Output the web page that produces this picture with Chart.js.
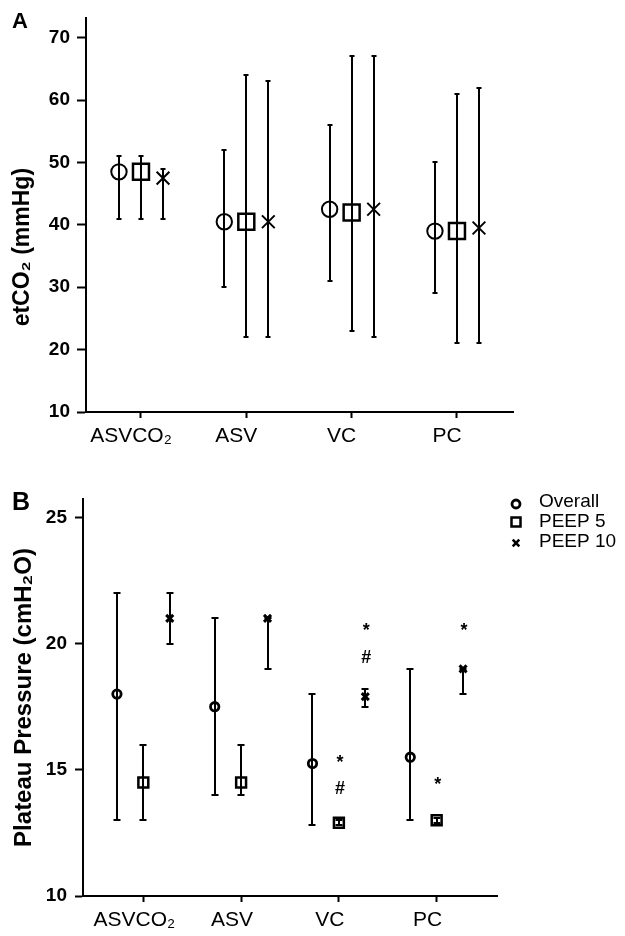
<!DOCTYPE html>
<html><head><meta charset="utf-8">
<script src="https://cdn.jsdelivr.net/npm/chart.js@4.4.1/dist/chart.umd.min.js"></script>
<style>
html,body{margin:0;padding:0;background:#fff;}
#wrap{position:relative;width:625px;height:936px;overflow:hidden;background:#fff;}
.panel{position:absolute;left:0;}
.lbl{position:absolute;font-family:"Liberation Sans",Arial,sans-serif;font-weight:bold;line-height:1;color:#000;}
</style></head><body>
<div id="wrap">
<canvas id="cA" class="panel" width="625" height="470" style="top:0"></canvas>
<canvas id="cB" class="panel" width="625" height="466" style="top:470px"></canvas>
<div class="lbl" style="left:12px;top:10px;font-size:22px">A</div>
<div class="lbl" style="left:12px;top:489px;font-size:25px">B</div>
</div>
<script>
// ---------------- data ----------------
const categories = ['ASVCO₂', 'ASV', 'VC', 'PC'];
const seriesNames = ['Overall', 'PEEP 5', 'PEEP 10'];

// Panel A: etCO2 (mmHg)
const etco2TickValues = [10, 20, 30, 40, 50, 60, 70];
const etco2Overall     = [48.5, 40.5, 42.5, 39.0];
const etco2OverallLow  = [41, 30, 31, 29];
const etco2OverallHigh = [51, 52, 56, 50];
const etco2Peep5       = [48.5, 40.5, 42.0, 39.0];
const etco2Peep5Low    = [41, 22, 23, 21];
const etco2Peep5High   = [51, 64, 67, 61];
const etco2Peep10      = [47.5, 40.5, 42.5, 39.5];
const etco2Peep10Low   = [41, 22, 22, 21];
const etco2Peep10High  = [49, 63, 67, 62];

// Panel B: Plateau pressure (cmH2O)
const plateauTickValues = [10, 15, 20, 25];
const plateauOverall     = [18.0, 17.5, 15.25, 15.5];
const plateauOverallLow  = [13, 14, 12.8, 13];
const plateauOverallHigh = [22, 21, 18, 19];
const plateauPeep5       = [14.5, 14.5, 12.9, 13.0];
const plateauPeep5Low    = [13, 14, 12.8, 12.9];
const plateauPeep5High   = [16, 16, 13.0, 13.1];
const plateauPeep10      = [21, 21, 17.9, 19];
const plateauPeep10Low   = [20, 19, 17.5, 18];
const plateauPeep10High  = [22, 21, 18.2, 19];

// significance marks in panel B
const sigCategory = [2, 2, 2, 2, 3, 3];
const sigSeries   = [1, 1, 2, 2, 1, 2];
const sigValue    = [15.5, 14.3, 20.7, 19.5, 14.6, 20.7];
const sigSymbol   = ['*', '#', '*', '#', '*', '*'];

// ---------------- setup ----------------
const FONT = '"Liberation Sans", Arial, "DejaVu Sans", sans-serif';
Chart.defaults.font.family = FONT;
Chart.defaults.color = '#000';

const errorBars = {
  id: 'errorBars',
  beforeDatasetsDraw(chart, args, opts) {
    const ctx = chart.ctx, x = chart.scales.x, y = chart.scales.y;
    ctx.save();
    ctx.strokeStyle = '#000';
    ctx.lineWidth = opts.lineWidth;
    chart.data.datasets.forEach(ds => {
      ds.data.forEach((p, j) => {
        const px = Math.round(x.getPixelForValue(p.x));
        const lo = Math.round(y.getPixelForValue(ds.errLow[j]));
        const hi = Math.round(y.getPixelForValue(ds.errHigh[j]));
        ctx.beginPath();
        ctx.moveTo(px, lo); ctx.lineTo(px, hi);
        ctx.moveTo(px - opts.cap, lo); ctx.lineTo(px + opts.cap, lo);
        ctx.moveTo(px - opts.cap, hi); ctx.lineTo(px + opts.cap, hi);
        ctx.stroke();
      });
    });
    ctx.restore();
  }
};

const sigMarks = {
  id: 'sigMarks',
  afterDatasetsDraw(chart, args, opts) {
    if (!opts.show) return;
    const ctx = chart.ctx, x = chart.scales.x, y = chart.scales.y;
    ctx.save();
    ctx.fillStyle = '#000';
    ctx.font = 'bold 18px ' + FONT;
    ctx.textAlign = 'center';
    ctx.textBaseline = 'alphabetic';
    sigSymbol.forEach((s, k) => {
      const px = x.getPixelForValue(sigCategory[k] + opts.offsets[sigSeries[k]]);
      const py = y.getPixelForValue(sigValue[k]);
      const shift = s === '*' ? 0.58 * 18 : 0.36 * 18;
      ctx.fillText(s, px + 1, py + shift);
    });
    ctx.restore();
  }
};

const sideLegend = {
  id: 'sideLegend',
  afterDraw(chart, args, opts) {
    if (!opts.show) return;
    const ctx = chart.ctx;
    ctx.save();
    ctx.strokeStyle = '#000';
    ctx.fillStyle = '#000';
    ctx.font = '19px ' + FONT;
    ctx.textBaseline = 'middle';
    ctx.textAlign = 'left';
    chart.data.datasets.forEach((ds, i) => {
      const my = opts.top + i * opts.step;
      const mx = opts.markerX;
      ctx.beginPath();
      if (ds.pointStyle === 'circle') {
        ctx.lineWidth = 2.8;
        ctx.arc(mx, my + 2, 4, 0, Math.PI * 2);
      } else if (ds.pointStyle === 'rect') {
        ctx.lineWidth = 2.5;
        ctx.rect(mx - 4.5, my - 4.5, 9, 9);
      } else {
        ctx.lineWidth = 2.6;
        ctx.moveTo(mx - 3.3, my - 2.3); ctx.lineTo(mx + 3.3, my + 4.3);
        ctx.moveTo(mx + 3.3, my - 2.3); ctx.lineTo(mx - 3.3, my + 4.3);
      }
      ctx.stroke();
      ctx.fillText(ds.label, opts.textX, my);
    });
    ctx.restore();
  }
};

function makeDatasets(means, lows, highs, offsets, styles) {
  return means.map((vals, s) => ({
    label: seriesNames[s],
    data: categories.map((c, i) => ({x: i + offsets[s], y: vals[i]})),
    errLow: lows[s],
    errHigh: highs[s],
    pointStyle: styles[s].style,
    radius: styles[s].r,
    hoverRadius: styles[s].r,
    borderWidth: styles[s].w,
    hoverBorderWidth: styles[s].w,
    borderColor: '#000',
    backgroundColor: 'rgba(0,0,0,0)',
    showLine: false
  }));
}

function makeOptions(cfg) {
  return {
    responsive: false,
    animation: false,
    events: [],
    layout: {padding: {top: cfg.top, right: cfg.right, bottom: 0, left: 0}},
    plugins: {
      legend: {display: false},
      tooltip: {enabled: false},
      errorBars: {lineWidth: 2, cap: cfg.cap},
      sigMarks: {show: cfg.sig, offsets: cfg.offsets},
      sideLegend: {show: cfg.legend, top: 32, step: 20, markerX: 516, textX: 539}
    },
    scales: {
      x: {
        type: 'linear',
        min: cfg.xmin, max: cfg.xmax,
        afterBuildTicks: s => { s.ticks = categories.map((c, i) => ({value: i})); },
        afterFit: s => { s.height = cfg.xh; },
        ticks: {
          callback: v => categories[Math.round(v)],
          font: {size: 21},
          color: '#000',
          padding: 6,
          labelOffset: cfg.labelOffset,
          autoSkip: false,
          maxRotation: 0
        },
        grid: {drawOnChartArea: false, tickLength: 6, tickColor: '#000', tickWidth: 2},
        border: {color: '#000', width: 2}
      },
      y: {
        min: cfg.ymin, max: cfg.ymax,
        afterBuildTicks: s => { s.ticks = cfg.ticks.map(v => ({value: v})); },
        afterFit: s => { s.width = cfg.yw; },
        ticks: {font: {size: 19, weight: 'bold'}, color: '#000', padding: cfg.ypad},
        grid: {drawOnChartArea: false, tickLength: cfg.ytl, tickColor: '#000', tickWidth: 2},
        border: {color: '#000', width: 2},
        title: {display: true, text: cfg.title, font: {size: cfg.titleSize, weight: 'bold'}, color: '#000', padding: {top: cfg.titlePad, bottom: 0}}
      }
    }
  };
}

const offA = [-0.209, 0, 0.209];
const offB = [-0.27, 0, 0.27];

new Chart(document.getElementById('cA'), {
  type: 'scatter',
  data: {datasets: makeDatasets(
    [etco2Overall, etco2Peep5, etco2Peep10],
    [etco2OverallLow, etco2Peep5Low, etco2Peep10Low],
    [etco2OverallHigh, etco2Peep5High, etco2Peep10High],
    offA,
    [{style: 'circle', r: 7.7, w: 2}, {style: 'rect', r: 11.3, w: 2.5}, {style: 'crossRot', r: 9, w: 2}]
  )},
  options: makeOptions({top: 13, right: 112, cap: 2.5, sig: false, legend: false, offsets: offA,
    xmin: -0.522, xmax: 3.532, xh: 58, labelOffset: -10,
    ymin: 10, ymax: 73.1, ticks: etco2TickValues, yw: 86, ypad: 7, ytl: 9,
    title: 'etCO₂ (mmHg)' + '\u00A0'.repeat(10), titleSize: 23, titlePad: 9}),
  plugins: [errorBars, sigMarks, sideLegend]
});

new Chart(document.getElementById('cB'), {
  type: 'scatter',
  data: {datasets: makeDatasets(
    [plateauOverall, plateauPeep5, plateauPeep10],
    [plateauOverallLow, plateauPeep5Low, plateauPeep10Low],
    [plateauOverallHigh, plateauPeep5High, plateauPeep10High],
    offB,
    [{style: 'circle', r: 4.2, w: 2.8}, {style: 'rect', r: 7, w: 2.5}, {style: 'crossRot', r: 5, w: 3}]
  )},
  options: makeOptions({top: 29, right: 128, cap: 3.5, sig: true, legend: true, offsets: offB,
    xmin: -0.617, xmax: 3.617, xh: 40, labelOffset: -9,
    ymin: 10, ymax: 25.73, ticks: plateauTickValues, yw: 83, ypad: 8, ytl: 8,
    title: 'Plateau Pressure (cmH₂O)', titleSize: 24, titlePad: 10}),
  plugins: [errorBars, sigMarks, sideLegend]
});
</script>
</body></html>
